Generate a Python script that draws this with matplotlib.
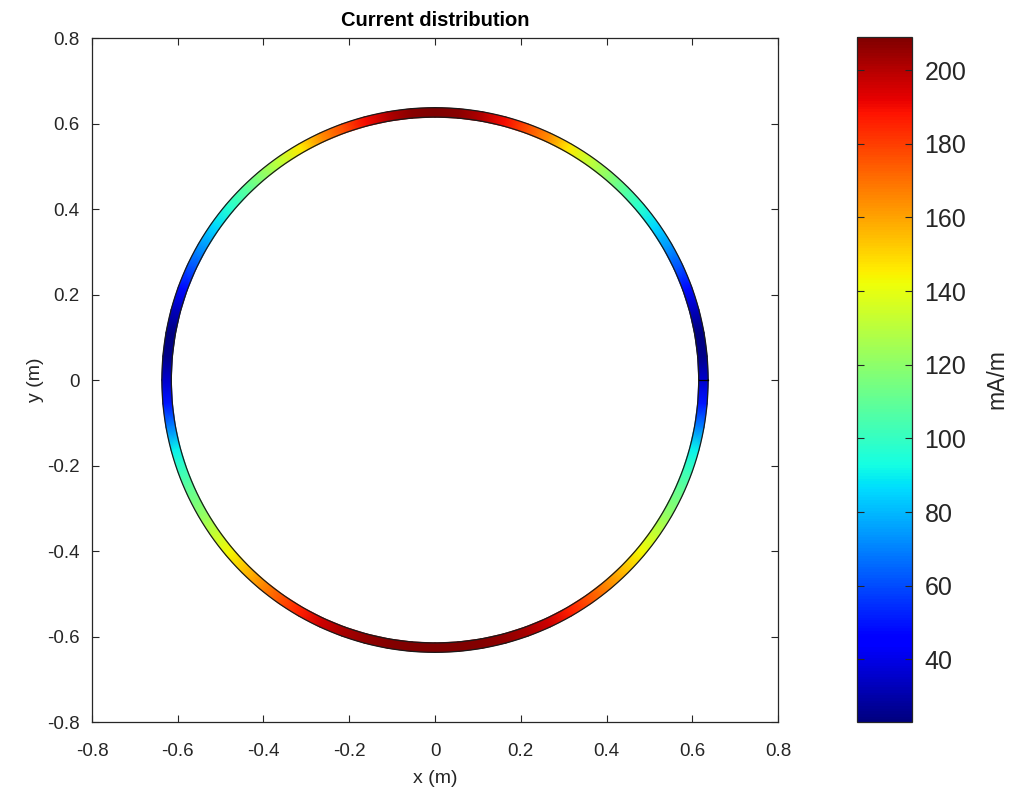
import numpy as np
import matplotlib
matplotlib.use("Agg")
import matplotlib.pyplot as plt
from matplotlib import cm, colors

# ---- data ----
# current magnitude (mA/m) on right half of loop, angle measured from +x axis
angles_deg = [-90, -85, -80, -75, -70, -65, -60, -55, -50, -45, -40, -35, -30, -25,
              -20, -15, -10, -5, 0, 5, 10, 15, 20, 25, 30, 35, 40, 45, 50, 55, 60,
              65, 70, 75, 80, 85, 90]
current_mA = [209, 209, 208, 206, 202, 196, 186, 176, 165, 154, 143, 132, 121, 112,
              102, 90, 70, 50, 36, 25, 23, 33, 48, 62, 74, 86, 97, 108, 120, 132, 146,
              164, 177, 190, 201, 207, 209]
cbar_ticks = [40, 60, 80, 100, 120, 140, 160, 180, 200]
axis_ticks = [-0.8, -0.6, -0.4, -0.2, 0, 0.2, 0.4, 0.6, 0.8]
r_inner = 0.615
r_outer = 0.637

plt.rcParams['font.family'] = ['Liberation Sans', 'DejaVu Sans']
txt = '#262626'

# full loop: right half + mirrored left half
a_r = np.array(angles_deg, float)
v_r = np.array(current_mA, float)
a_l = 180 - a_r[::-1]
v_l = v_r[::-1]
ang = np.concatenate([a_r, a_l[1:]])
val = np.concatenate([v_r, v_l[1:]])
th = np.deg2rad(ang)

X = np.vstack([r_inner * np.cos(th), r_outer * np.cos(th)])
Y = np.vstack([r_inner * np.sin(th), r_outer * np.sin(th)])
C = np.vstack([val, val])

fig = plt.figure(figsize=(10.12, 7.95), dpi=100)
ax = fig.add_axes([0.0909, 0.0918, 0.6779, 0.8604])
norm = colors.Normalize(vmin=val.min(), vmax=val.max())
ax.pcolormesh(X, Y, C, cmap='jet', norm=norm, shading='gouraud')
tt = np.linspace(0, 2 * np.pi, 721)
for r in (r_inner, r_outer):
    ax.plot(r * np.cos(tt), r * np.sin(tt), color='#1a1a1a', lw=0.9)
ax.plot([r_inner, r_outer], [0, 0], color='black', lw=0.9)

ax.set_xlim(-0.8, 0.8)
ax.set_ylim(-0.8, 0.8)
ax.set_xticks(axis_ticks)
ax.set_yticks(axis_ticks)
ax.set_xticklabels([f"{t:g}" for t in axis_ticks])
ax.set_yticklabels([f"{t:g}" for t in axis_ticks])
ax.tick_params(direction='in', length=5, width=0.8, colors=txt, labelsize=13.5,
               top=True, right=True)
ax.tick_params(axis='x', pad=15)
ax.tick_params(axis='y', pad=9)
for s in ax.spines.values():
    s.set_color(txt)
    s.set_linewidth(0.9)
ax.set_xlabel('x (m)', fontsize=14, color=txt, labelpad=7)
ax.set_ylabel('y (m)', fontsize=14, color=txt, labelpad=2)
ax.set_title('Current distribution', fontsize=14.5, fontweight='bold', color='black', pad=9)

cax = fig.add_axes([0.8468, 0.0918, 0.0544, 0.8617])
sm = cm.ScalarMappable(norm=norm, cmap='jet')
cb = fig.colorbar(sm, cax=cax)
cb.set_ticks(cbar_ticks)
cax.tick_params(direction='in', length=5, width=0.8, colors=txt, labelsize=18,
                left=True, right=True, pad=9)
cb.outline.set_edgecolor(txt)
cb.outline.set_linewidth(0.9)
cb.set_label('mA/m', fontsize=16.5, color=txt, labelpad=14)

fig.savefig('out.png', dpi=100)
